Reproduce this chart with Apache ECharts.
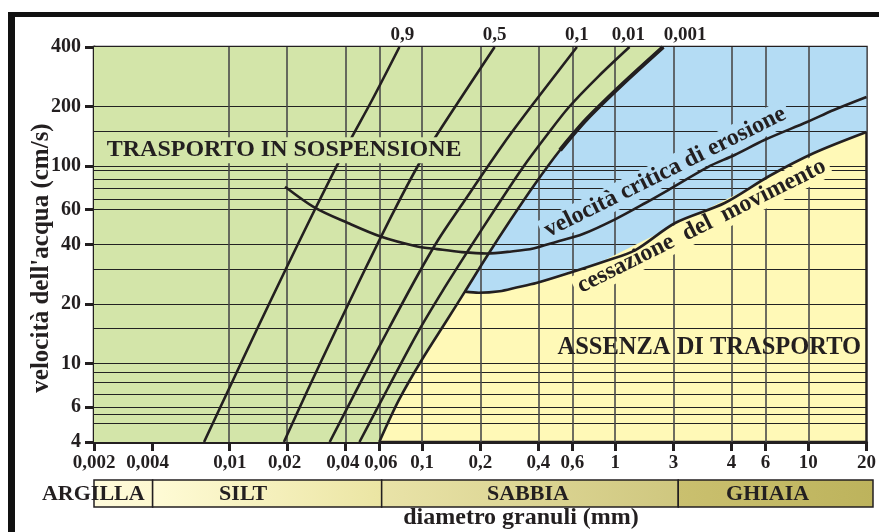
<!DOCTYPE html>
<html>
<head>
<meta charset="utf-8">
<script src="https://cdn.jsdelivr.net/npm/echarts@6/dist/echarts.min.js"></script>
<style>html,body{margin:0;padding:0;background:#fff}#c{width:879px;height:532px}</style>
</head>
<body>
<div id="c"></div>
<script>
// ---------------- DATA ----------------
const xTickValues = [0.002, 0.004, 0.01, 0.02, 0.04, 0.06, 0.1, 0.2, 0.4, 0.6, 1, 2, 4, 6, 10, 20];
const xTickLabels = ['0,002', '0,004', '0,01', '0,02', '0,04', '0,06', '0,1', '0,2', '0,4', '0,6', '1', '3', '4', '6', '10', '20'];
const yTickValues = [4, 6, 10, 20, 40, 60, 100, 200, 400];
const yTickLabels = ['4', '6', '10', '20', '40', '60', '100', '200', '400'];
const hGridValues = [200, 150, 100, 95, 86, 77, 68, 60, 40, 30, 20, 15, 10, 9, 8, 7, 6, 5.5, 5];
const vGridValues = [0.004, 0.01, 0.02, 0.04, 0.06, 0.1, 0.2, 0.4, 0.6, 1, 2, 4, 6, 10];

const lineNames = ['0,9', '0,5', '0,1', '0,01', '0,001'];
const line09 = [[0.00743, 4], [0.00993, 7.33], [0.0139, 14.76], [0.01959, 29.71], [0.02776, 59.78], [0.03982, 120.3], [0.0551, 215.6], [0.0763, 400]];
const line05 = [[0.01925, 4], [0.02556, 7.33], [0.0358, 14.76], [0.05044, 29.71], [0.0719, 59.78], [0.09897, 107.1], [0.1445, 191.9], [0.2374, 400]];
const line01 = [[0.03323, 4], [0.04573, 7.33], [0.06661, 14.76], [0.09495, 28.03], [0.121, 42.15], [0.1588, 62.66], [0.2656, 130.6], [0.3788, 208.2], [0.6333, 400]];
const line001 = [[0.04739, 4], [0.0662, 7.42], [0.0944, 14.2], [0.1284, 23.5], [0.1739, 37.5], [0.243, 62.1], [0.3345, 99.1], [0.439, 141.7], [0.5763, 198.7], [0.8213, 285], [1.185, 400]];
const line0001 = [[0.06, 4], [0.07586, 6.53], [0.09956, 10.4], [0.1346, 16.58], [0.1665, 23.1], [0.2186, 35.38], [0.2868, 53.2], [0.381, 80.05], [0.5182, 120.3], [0.7044, 170.8], [1.078, 256.8], [1.771, 400]];
const erosion = [[0.01952, 78.5], [0.02782, 61.5], [0.04125, 51.4], [0.06095, 43.9], [0.0944, 39.1], [0.1196, 37.9], [0.1607, 36.6], [0.216, 36.0], [0.2903, 36.9], [0.3764, 38.2], [0.4941, 41.2], [0.6801, 45.2], [1.004, 53.8], [1.432, 64.9], [1.88, 75.5], [3.016, 98.7], [4.151, 113.6], [5.917, 135.3], [9.84, 166.9], [13.54, 191.9], [20, 223.3]];
const cessazione = [[0.1665, 23.1], [0.1965, 22.8], [0.252, 23.2], [0.3079, 24.23], [0.3901, 25.53], [0.5763, 28.69], [0.8925, 33.0], [1.272, 37.5], [2.042, 51.4], [3.687, 64.9], [6.28, 88.9], [10.69, 116.2], [20, 148.5]];
const suspensionLeftEdge = [[0.002, 4], [0.06, 4]];

const bandNames = ['ARGILLA', 'SILT', 'SABBIA', 'GHIAIA'];
const bandStart = [0.002, 0.004, 0.06, 2];
const bandEnd = [0.004, 0.06, 2, 20];

const noteTexts = ['TRASPORTO IN SOSPENSIONE', 'ASSENZA DI TRASPORTO', 'velocità critica di erosione', 'cessazione  del  movimento'];

// ---------------- STYLE / LAYOUT ----------------
const FONT = '"Liberation Serif", "Times New Roman", serif';
const INK = '#231f20';
const GREEN = '#d3e5a9', BLUE = '#b4dcf4', YELLOW = '#fff9b7';
const bandColors = [['#fffbdc', '#fdf8d0'], ['#fffbd6', '#ebe5a3'], ['#e9e3a8', '#cfc77f'], ['#cac06f', '#bdb35c']];
const bandLabelOffset = [-30, -24, -2, -8];
const lineLabelOffset = [[3, 0], [0, 0], [0, 0], [-1, 0], [22, 0]];
const xLabelNudge = [0, -4.5, 1, -2.5, -2.5, 1.5, 0, 0, 0, 0, 0, 0, 0, 0, 0, 0];
const noteLayout = [
  {anchor: [0.0193, 120], rot: 0, size: 24, bg: GREEN, z: 10},
  {anchor: [3.07, 12], rot: 0, size: 24.5, bg: null, z: 5},
  {anchor: [1.814, 93], rot: 26.5, size: 24, bg: BLUE, z: 5},
  {anchor: [2.80, 49.5], rot: 26.5, size: 24, bg: YELLOW, z: 5}
];

function lookupIndex(v, vals) {
  let best = 0, bd = Infinity;
  vals.forEach((t, i) => { const d = Math.abs(Math.log(v / t)); if (d < bd) { bd = d; best = i; } });
  return best;
}

const labelFont = {color: INK, fontFamily: FONT, fontWeight: 'bold', fontSize: 19};
const xRich = {};
xLabelNudge.forEach((n, i) => {
  xRich['n' + i] = Object.assign({}, labelFont, {padding: n >= 0 ? [0, 0, 0, 2 * n] : [0, -2 * n, 0, 0]});
});

const SMOOTH = 0.3;
const concLines = [line09, line05, line01, line001, line0001];

function curveSeries(data, width, extra) {
  return Object.assign({
    type: 'line', data: data, xAxisIndex: 0, yAxisIndex: 0, smooth: SMOOTH,
    symbol: 'none', showSymbol: false, silent: true, z: 6, clip: false,
    lineStyle: {color: INK, width: width}
  }, extra || {});
}

const series = [];
// regions
series.push({type: 'line', data: cessazione, smooth: SMOOTH, symbol: 'none', silent: true, z: 1,
  lineStyle: {opacity: 0}, areaStyle: {color: BLUE, opacity: 1, origin: 'end'}});
series.push({type: 'line', data: suspensionLeftEdge, symbol: 'none', silent: true, z: 1,
  lineStyle: {opacity: 0}, areaStyle: {color: GREEN, opacity: 1, origin: 'end'},
  markLine: {
    silent: true, symbol: ['none', 'none'], label: {show: false}, animation: false, z: 3,
    emphasis: {disabled: true},
    data: hGridValues.map(v => ({yAxis: v, lineStyle: {color: '#222', width: 1.2, type: 'solid'}}))
      .concat(vGridValues.map(v => ({xAxis: v, lineStyle: {color: '#4a4a4a', width: 1.6, type: 'solid'}})))
  }});
series.push({type: 'line', data: line0001, smooth: SMOOTH, symbol: 'none', silent: true, z: 1,
  lineStyle: {opacity: 0}, areaStyle: {color: GREEN, opacity: 1, origin: 'end'}});

// concentration lines with top labels
concLines.forEach((d, i) => {
  series.push(curveSeries(d, 2.6, {
    markPoint: {
      symbol: 'circle', symbolSize: 1, silent: true, animation: false,
      itemStyle: {color: 'rgba(0,0,0,0)'},
      label: Object.assign({show: true, position: 'top', distance: 2, formatter: lineNames[i], offset: lineLabelOffset[i]}, labelFont),
      data: [{coord: d[d.length - 1]}]
    }
  }));
});
// thicker upper part of the 0,001 line
series.push(curveSeries(line0001.slice(8), 4.2));
series.push(curveSeries(erosion, 2.6));
series.push(curveSeries(cessazione, 2.6));

// grain size band
series.push({
  type: 'custom', xAxisIndex: 1, yAxisIndex: 1, silent: true, z: 2,
  data: bandNames.map((n, i) => [bandStart[i], bandEnd[i], i]),
  encode: {x: [0, 1]},
  renderItem: function (params, api) {
    const i = api.value(2);
    const a = api.coord([api.value(0), 1]);
    const b = api.coord([api.value(1), 0]);
    return {
      type: 'group',
      children: [
        {type: 'rect', shape: {x: a[0], y: a[1], width: b[0] - a[0], height: b[1] - a[1]},
          style: {fill: new echarts.graphic.LinearGradient(0, 0, 1, 0, [{offset: 0, color: bandColors[i][0]}, {offset: 1, color: bandColors[i][1]}]),
            stroke: INK, lineWidth: 1.5}},
        {type: 'text', x: (a[0] + b[0]) / 2 + bandLabelOffset[i], y: (a[1] + b[1]) / 2 + 1,
          style: {text: bandNames[i], align: 'center', verticalAlign: 'middle', textAlign: 'center', textVerticalAlign: 'middle',
            font: 'bold 22px ' + FONT, fill: INK}}
      ]
    };
  }
});

const option = {
  animation: false,
  backgroundColor: '#ffffff',
  grid: [
    {left: 94, top: 47, width: 779, height: 395, show: true, backgroundColor: YELLOW, borderColor: INK, borderWidth: 2.5, containLabel: false},
    {left: 94, top: 480, width: 779, height: 27, show: false, containLabel: false}
  ],
  xAxis: [
    {type: 'log', logBase: 10, min: 0.002, max: 20, gridIndex: 0,
      axisLine: {show: true, onZero: false, lineStyle: {color: INK, width: 3}},
      axisTick: {show: true, customValues: xTickValues, length: 9, lineStyle: {color: INK, width: 3}},
      axisLabel: Object.assign({show: true, customValues: xTickValues,
        formatter: v => { const i = lookupIndex(v, xTickValues); return '{n' + i + '|' + xTickLabels[i] + '}'; },
        rich: xRich, margin: 12, hideOverlap: false, showMinLabel: true, showMaxLabel: true}, labelFont),
      splitLine: {show: false}, minorTick: {show: false}, minorSplitLine: {show: false}},
    {type: 'log', logBase: 10, min: 0.002, max: 20, gridIndex: 1, show: false}
  ],
  yAxis: [
    {type: 'log', logBase: 10, min: 4, max: 400, gridIndex: 0,
      axisLine: {show: true, onZero: false, lineStyle: {color: INK, width: 3}},
      axisTick: {show: true, customValues: yTickValues, length: 9, lineStyle: {color: INK, width: 3}},
      axisLabel: {show: true, customValues: yTickValues, formatter: v => yTickLabels[lookupIndex(v, yTickValues)],
        margin: 13, color: INK, fontFamily: FONT, fontWeight: 'bold', fontSize: 20, hideOverlap: false,
        showMinLabel: true, showMaxLabel: true},
      splitLine: {show: false}, minorTick: {show: false}, minorSplitLine: {show: false}},
    {type: 'value', min: 0, max: 1, gridIndex: 1, show: false}
  ],
  series: series
};

const chart = echarts.init(document.getElementById('c'), null, {renderer: 'canvas'});
chart.setOption(option);

// annotations anchored to data coordinates
const graphics = [
  {type: 'rect', shape: {x: 8, y: 12, width: 871, height: 5}, style: {fill: '#111'}, z: 20, silent: true},
  {type: 'rect', shape: {x: 8, y: 12, width: 7, height: 520}, style: {fill: '#111'}, z: 20, silent: true},
  {type: 'text', x: 42, y: 258, rotation: Math.PI / 2, z: 10, silent: true,
    style: {text: "velocità dell'acqua (cm/s)", align: 'center', verticalAlign: 'middle', textAlign: 'center', textVerticalAlign: 'middle',
      font: 'bold 25px ' + FONT, fill: INK}},
  {type: 'text', x: 521, y: 518, z: 10, silent: true,
    style: {text: 'diametro granuli (mm)', align: 'center', verticalAlign: 'middle', textAlign: 'center', textVerticalAlign: 'middle',
      font: 'bold 24px ' + FONT, fill: INK}}
];
noteTexts.forEach((t, i) => {
  const L = noteLayout[i];
  const p = chart.convertToPixel({gridIndex: 0}, L.anchor);
  const st = {text: t, align: 'center', verticalAlign: 'middle', textAlign: 'center', textVerticalAlign: 'middle',
    font: 'bold ' + L.size + 'px ' + FONT, fill: INK};
  if (L.bg) { st.backgroundColor = L.bg; st.padding = [2, 4, 0, 4]; }
  graphics.push({type: 'text', x: p[0], y: p[1], rotation: L.rot * Math.PI / 180, z: L.z, silent: true, style: st});
});
chart.setOption({graphic: graphics});
</script>
</body>
</html>
